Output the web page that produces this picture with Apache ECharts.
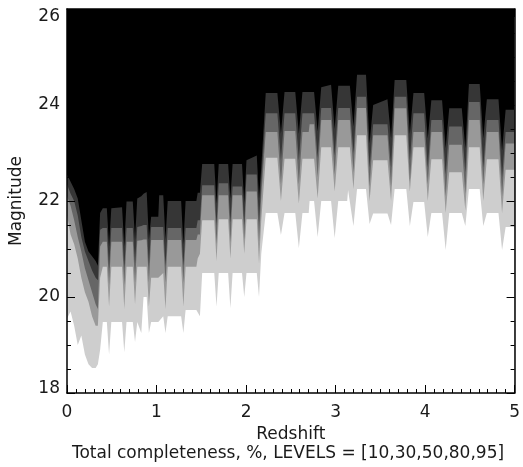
<!DOCTYPE html>
<html>
<head>
<meta charset="utf-8">
<script src="https://cdn.jsdelivr.net/npm/echarts@6/dist/echarts.min.js"></script>
<style>
  html, body { margin: 0; padding: 0; background: #fff; }
  #chart { width: 523px; height: 467px; }
</style>
</head>
<body>
<div id="chart"></div>
<script>
// Redshift sample positions shared by every contour boundary
const redshift = [
  0.00, 0.04, 0.08, 0.12, 0.16, 0.20, 0.24, 0.28, 0.32, 0.345, 0.37, 0.40,
  0.445, 0.47, 0.495, 0.615, 0.64, 0.665, 0.735, 0.76, 0.785, 0.83,
  0.855, 0.89, 0.915, 0.94, 1.02, 1.03, 1.075, 1.10, 1.125, 1.275,
  1.30, 1.325, 1.445, 1.46, 1.485, 1.51, 1.645, 1.67, 1.695, 1.80,
  1.825, 1.85, 1.955, 1.98, 2.005, 2.12, 2.145, 2.17, 2.22,
  2.35, 2.39, 2.43, 2.55, 2.59, 2.63, 2.70, 2.71, 2.76, 2.80,
  2.84, 2.95, 2.99, 3.03, 3.13, 3.14, 3.16, 3.20, 3.24, 3.34,
  3.38, 3.42, 3.58, 3.62, 3.66, 3.79, 3.83, 3.87, 3.99, 4.03,
  4.07, 4.19, 4.23, 4.27, 4.41, 4.45, 4.49, 4.61, 4.65, 4.69,
  4.82, 4.86, 4.90, 5.00
];

// Magnitude where completeness crosses 10 %
const mag10 = [
  22.55, 22.40, 22.25, 22.05, 21.60, 21.15, 20.95, 20.85, 20.75, 20.65, 21.75, 21.85,
  21.85, 21.05, 21.85, 21.87, 21.05, 21.99, 21.99, 21.20, 22.05, 22.10,
  22.15, 22.19, 21.20, 21.67, 21.67, 22.12, 22.12, 21.20, 22.00, 22.00,
  21.10, 22.00, 22.00, 22.17, 22.17, 22.77, 22.77, 21.95, 22.77, 22.77,
  22.05, 22.77, 22.77, 21.96, 22.85, 22.95, 22.05, 22.70, 24.25,
  24.25, 23.40, 24.27, 24.27, 23.40, 24.27, 24.27, 24.27, 24.27, 23.45,
  24.37, 24.42, 23.50, 24.40, 24.40, 24.40, 24.40, 23.55, 24.63, 24.63,
  23.20, 24.00, 24.12, 23.30, 24.52, 24.52, 23.40, 24.25, 24.25, 23.30,
  24.10, 24.10, 23.10, 23.93, 23.93, 23.10, 24.44, 24.44, 23.30, 24.12,
  24.12, 23.05, 23.90, 23.90
];

// Magnitude where completeness crosses 30 %
const mag30 = [
  22.35, 22.15, 22.00, 21.70, 21.25, 20.95, 20.75, 20.55, 20.40, 20.35, 21.40, 21.44,
  21.44, 20.60, 21.44, 21.44, 20.60, 21.44, 21.44, 20.70, 21.46, 21.48,
  21.50, 21.50, 20.65, 21.46, 21.46, 21.46, 21.46, 20.65, 21.44, 21.44,
  20.65, 21.44, 21.44, 21.60, 21.60, 22.33, 22.33, 21.50, 22.37, 22.37,
  21.55, 22.30, 22.30, 21.50, 22.55, 22.55, 21.55, 22.40, 23.83,
  23.83, 22.85, 23.83, 23.83, 22.85, 23.83, 23.83, 23.83, 23.83, 22.90,
  23.94, 23.94, 22.95, 23.94, 23.94, 23.94, 23.94, 23.00, 24.17, 24.17,
  22.70, 23.60, 23.60, 22.70, 24.17, 24.17, 22.85, 23.83, 23.83, 22.70,
  23.69, 23.69, 22.55, 23.55, 23.55, 22.60, 24.06, 24.06, 22.70, 23.69,
  23.69, 22.50, 23.44, 23.44
];

// Magnitude where completeness crosses 50 %
const mag50 = [
  22.10, 21.90, 21.60, 21.25, 20.95, 20.60, 20.35, 20.10, 19.85, 19.75, 21.05, 21.15,
  21.15, 20.25, 21.15, 21.15, 20.25, 21.15, 21.15, 20.30, 21.17, 21.18,
  21.20, 21.20, 20.30, 21.19, 21.19, 21.19, 21.19, 20.30, 21.19, 21.19,
  20.30, 21.19, 21.19, 21.30, 21.30, 22.12, 22.12, 21.10, 22.12, 22.12,
  21.15, 22.12, 22.12, 21.20, 22.20, 22.20, 21.15, 22.10, 23.44,
  23.44, 22.35, 23.46, 23.46, 22.35, 23.44, 23.44, 23.60, 23.60, 22.50,
  23.69, 23.69, 22.55, 23.69, 23.69, 23.69, 23.69, 22.60, 23.94, 23.94,
  22.30, 23.37, 23.37, 22.30, 23.93, 23.93, 22.40, 23.44, 23.44, 22.35,
  23.44, 23.44, 22.10, 23.17, 23.17, 22.15, 23.69, 23.69, 22.35, 23.44,
  23.44, 22.10, 23.20, 23.20
];

// Magnitude where completeness crosses 80 %
const mag80 = [
  21.70, 21.30, 21.10, 20.80, 20.40, 20.10, 19.90, 19.60, 19.40, 19.40, 20.40, 20.63,
  20.63, 19.80, 20.63, 20.63, 19.75, 20.63, 20.63, 19.85, 20.63, 20.63,
  20.63, 20.63, 19.80, 20.40, 20.40, 20.40, 20.50, 19.75, 20.63, 20.63,
  19.80, 20.63, 20.63, 20.80, 20.90, 21.60, 21.60, 20.75, 21.62, 21.62,
  20.80, 21.62, 21.62, 20.90, 21.62, 21.62, 20.70, 21.60, 22.90,
  22.90, 22.00, 22.88, 22.88, 21.95, 22.88, 22.88, 22.88, 22.88, 22.05,
  23.12, 23.12, 22.20, 23.12, 23.12, 23.12, 23.12, 22.25, 23.37, 23.37,
  22.00, 22.85, 22.85, 22.00, 23.37, 23.37, 22.20, 23.12, 23.12, 22.00,
  22.87, 22.87, 21.75, 22.60, 22.60, 21.80, 23.12, 23.12, 22.00, 22.87,
  22.87, 21.75, 22.65, 22.65
];

// Magnitude where completeness crosses 95 %
const mag95 = [
  19.55, 19.70, 19.40, 19.00, 19.20, 18.80, 18.60, 18.52, 18.52, 18.60, 18.90, 19.48,
  19.48, 18.80, 19.48, 19.48, 18.85, 19.48, 19.48, 19.06, 19.48, 19.25,
  20.00, 20.00, 19.25, 19.48, 19.48, 19.48, 19.60, 19.25, 19.60, 19.60,
  19.25, 19.73, 19.73, 19.73, 19.60, 20.50, 20.50, 19.80, 20.50, 20.50,
  19.77, 20.50, 20.50, 20.00, 20.50, 20.50, 20.00, 20.90, 21.75,
  21.75, 21.29, 21.75, 21.75, 21.02, 21.75, 21.75, 22.00, 22.00, 21.25,
  22.00, 22.00, 21.23, 22.00, 22.00, 22.23, 22.23, 21.48, 22.25, 22.25,
  21.52, 21.74, 21.74, 21.50, 22.25, 22.25, 21.48, 21.98, 21.98, 21.25,
  21.75, 21.75, 20.98, 21.75, 21.75, 21.48, 22.25, 22.25, 21.48, 21.75,
  21.75, 20.98, 21.46, 21.46
];

const levels = [10, 30, 50, 80, 95];
const boundaries = [mag10, mag30, mag50, mag80, mag95];
// fill above each boundary's lower side; black background is < 10 %
const bandColors = ['#363636', '#666666', '#999999', '#cecece', '#ffffff'];

const FONT = '"DejaVu Sans", sans-serif';
const TEXT = '#1a1a1a';
const AXIS = '#000000';

function frameAxis(extra) {
  return Object.assign({
    type: 'value',
    z: 10,
    axisLine: { show: true, onZero: false, lineStyle: { color: AXIS, width: 1.5 } },
    axisTick: { show: true, inside: true, length: 8, lineStyle: { color: AXIS, width: 1 } },
    minorTick: { show: true, length: 4, lineStyle: { color: AXIS, width: 1 } },
    splitLine: { show: false },
    minorSplitLine: { show: false }
  }, extra);
}

const chart = echarts.init(document.getElementById('chart'), null, { renderer: 'canvas' });

chart.setOption({
  animation: false,
  backgroundColor: '#ffffff',
  grid: {
    left: 66, right: 7, top: 9, bottom: 74,
    show: true, backgroundColor: '#000000', borderWidth: 0
  },
  xAxis: [
    frameAxis({
      position: 'bottom', min: 0, max: 5, interval: 1,
      minorTick: { show: true, splitNumber: 10, length: 4, lineStyle: { color: AXIS, width: 1 } },
      axisLabel: { margin: 11, fontSize: 17, fontFamily: FONT, color: TEXT, showMinLabel: true, showMaxLabel: true },
      name: 'Redshift', nameLocation: 'middle', nameGap: 27,
      nameTextStyle: { fontSize: 17, fontFamily: FONT, color: TEXT }
    }),
    frameAxis({
      position: 'top', min: 0, max: 5, interval: 1,
      minorTick: { show: true, splitNumber: 10, length: 4, lineStyle: { color: AXIS, width: 1 } },
      axisLabel: { show: false }
    })
  ],
  yAxis: [
    frameAxis({
      position: 'left', min: 18, max: 26, interval: 2,
      minorTick: { show: true, splitNumber: 4, length: 4, lineStyle: { color: AXIS, width: 1 } },
      axisLabel: {
        margin: 7, fontSize: 17, fontFamily: FONT, color: TEXT,
        showMinLabel: true, showMaxLabel: true,
        formatter: v => v === 26 ? '{t|26}' : (v === 18 ? '{b|18}' : '{m|' + v + '}'),
        rich: {
          t: { fontSize: 17, fontFamily: FONT, color: TEXT, padding: [16, 0, 0, 0] },
          b: { fontSize: 17, fontFamily: FONT, color: TEXT, padding: [0, 0, 8, 0] },
          m: { fontSize: 17, fontFamily: FONT, color: TEXT }
        }
      },
      name: 'Magnitude', nameLocation: 'middle', nameGap: 42, nameRotate: 90,
      nameTextStyle: { fontSize: 17, fontFamily: FONT, color: TEXT }
    }),
    frameAxis({
      position: 'right', min: 18, max: 26, interval: 2,
      minorTick: { show: true, splitNumber: 4, length: 4, lineStyle: { color: AXIS, width: 1 } },
      axisLabel: { show: false }
    })
  ],
  graphic: [{
    type: 'text',
    x: 288, y: 454,
    silent: true,
    style: {
      text: 'Total completeness, %, LEVELS = [' + levels.join(',') + ']',
      font: '17px ' + FONT,
      fill: TEXT,
      align: 'center',
      verticalAlign: 'middle'
    }
  }],
  series: boundaries.map((mags, i) => ({
    type: 'line',
    name: levels[i] + '%',
    xAxisIndex: 0,
    yAxisIndex: 0,
    data: redshift.map((z, k) => [z, mags[k]]),
    symbol: 'none',
    showSymbol: false,
    silent: true,
    z: 2 + i,
    lineStyle: { width: 0 },
    areaStyle: { color: bandColors[i], opacity: 1, origin: 'start' }
  }))
});
</script>
</body>
</html>
